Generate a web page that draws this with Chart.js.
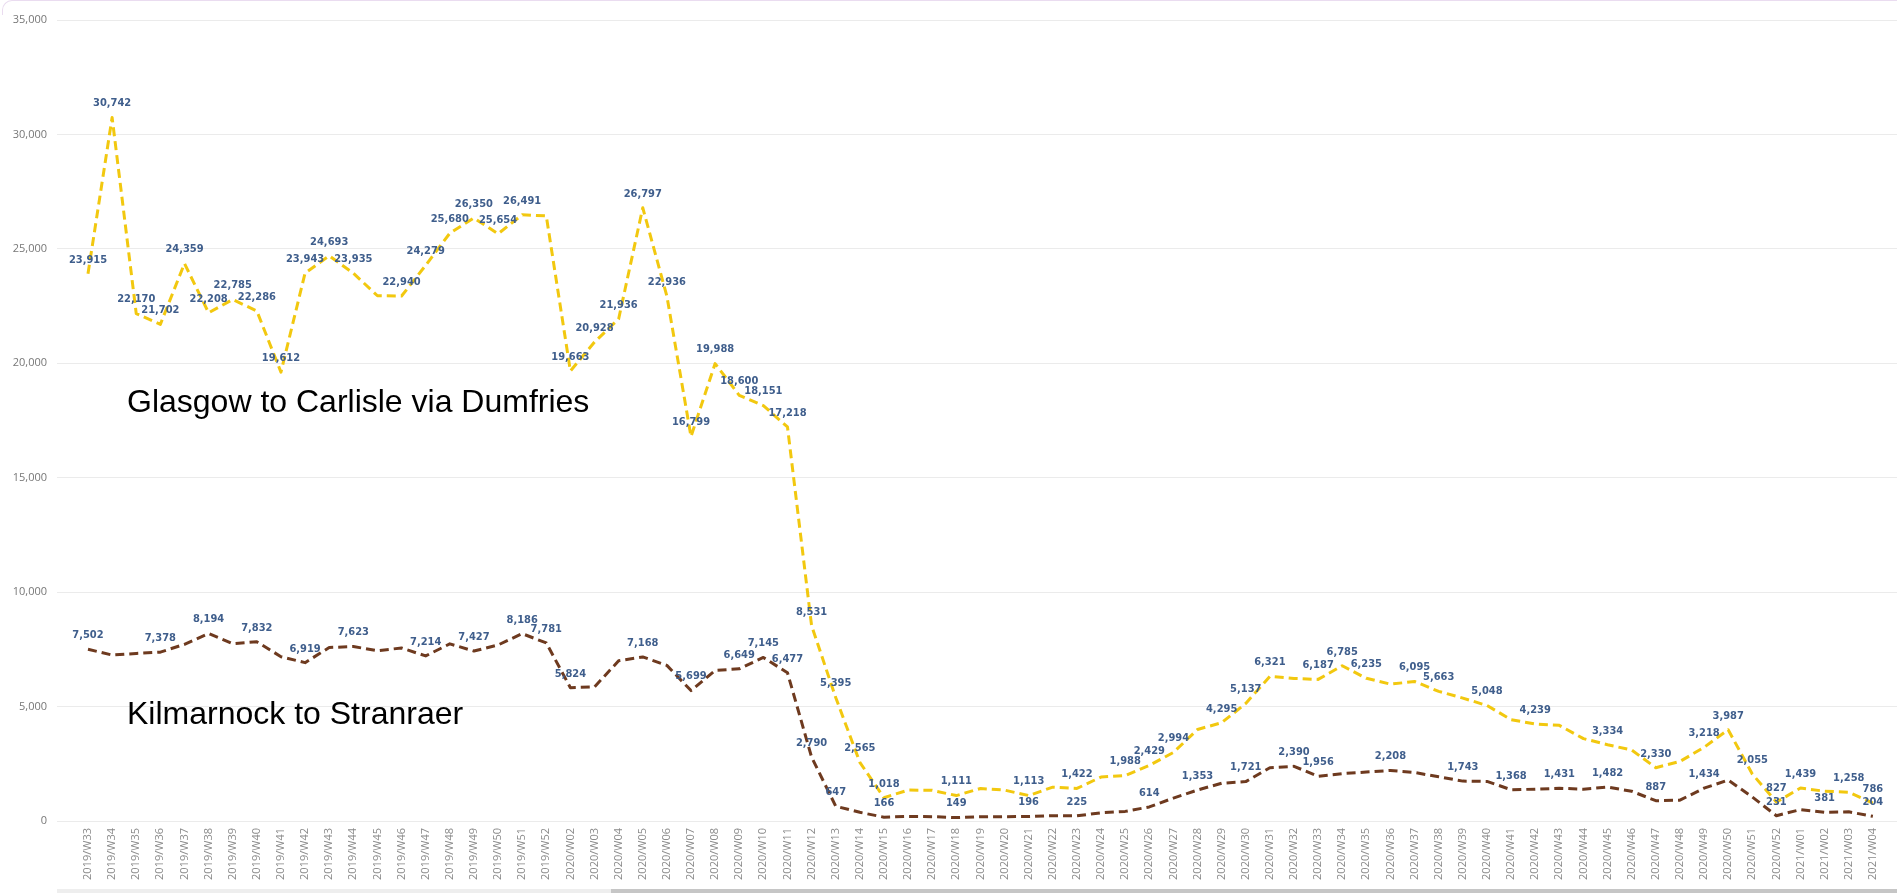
<!DOCTYPE html>
<html>
<head>
<meta charset="utf-8">
<script src="https://cdn.jsdelivr.net/npm/chart.js@4.4.1/dist/chart.umd.min.js"></script>
<style>
    body { margin: 0; background: #fff; }
    #wrap { position: relative; width: 1897px; height: 894px; overflow: hidden; }
    #frame { position: absolute; left: 2px; top: 0; width: 1900px; height: 14px;
             border-top: 1px solid #eadcf0; border-left: 1px solid #eadcf0; border-top-left-radius: 10px; }
    #track { position: absolute; left: 57px; top: 889px; width: 1840px; height: 4px; background: #eeeeee; }
    #thumb { position: absolute; left: 611px; top: 889px; width: 1286px; height: 4px; background: #c6c6c6; }
</style>
</head>
<body>
<div id="wrap">
    <canvas id="LineChart" width="1897" height="894"></canvas>
    <div id="frame"></div>
    <div id="track"></div>
    <div id="thumb"></div>
</div>
<script>
// ---- data (weekly passenger counts) ----
const weeks = [
    '2019/W33','2019/W34','2019/W35','2019/W36','2019/W37','2019/W38','2019/W39','2019/W40','2019/W41','2019/W42',
    '2019/W43','2019/W44','2019/W45','2019/W46','2019/W47','2019/W48','2019/W49','2019/W50','2019/W51','2019/W52',
    '2020/W02','2020/W03','2020/W04','2020/W05','2020/W06','2020/W07','2020/W08','2020/W09','2020/W10','2020/W11',
    '2020/W12','2020/W13','2020/W14','2020/W15','2020/W16','2020/W17','2020/W18','2020/W19','2020/W20','2020/W21',
    '2020/W22','2020/W23','2020/W24','2020/W25','2020/W26','2020/W27','2020/W28','2020/W29','2020/W30','2020/W31',
    '2020/W32','2020/W33','2020/W34','2020/W35','2020/W36','2020/W37','2020/W38','2020/W39','2020/W40','2020/W41',
    '2020/W42','2020/W43','2020/W44','2020/W45','2020/W46','2020/W47','2020/W48','2020/W49','2020/W50','2020/W51',
    '2020/W52','2021/W01','2021/W02','2021/W03','2021/W04'
];

const glasgow = [
    23915, 30742, 22170, 21702, 24359, 22208, 22785, 22286, 19612, 23943,
    24693, 23935, 22950, 22940, 24279, 25680, 26350, 25654, 26491, 26440,
    19663, 20928, 21936, 26797, 22936, 16799, 19988, 18600, 18151, 17218,
    8531, 5395, 2565, 1018, 1350, 1340, 1111, 1420, 1350, 1113,
    1480, 1422, 1920, 1988, 2429, 2994, 4000, 4295, 5137, 6321,
    6230, 6187, 6785, 6235, 5980, 6095, 5663, 5370, 5048, 4430,
    4239, 4180, 3600, 3334, 3100, 2330, 2600, 3218, 3987, 2055,
    827, 1439, 1300, 1258, 786
];

const kilmarnock = [
    7502, 7250, 7320, 7378, 7720, 8194, 7750, 7832, 7180, 6919,
    7580, 7623, 7440, 7560, 7214, 7740, 7427, 7690, 8186, 7781,
    5824, 5860, 7000, 7168, 6800, 5699, 6580, 6649, 7145, 6477,
    2790, 647, 380, 166, 200, 190, 149, 185, 190, 196,
    230, 225, 360, 420, 614, 1000, 1353, 1650, 1721, 2330,
    2390, 1956, 2070, 2140, 2208, 2120, 1930, 1743, 1730, 1368,
    1390, 1431, 1390, 1482, 1300, 887, 910, 1434, 1790, 1050,
    231, 500, 381, 400, 204
];

// which points carry a value label (the others were hidden to avoid overlap)
const glasgowLabelled = [0,1,2,3,4,5,6,7,8,9,10,11,13,14,15,16,17,18,20,21,22,23,24,25,26,27,28,29,30,31,32,33,
    36,39,41,43,44,45,47,48,49,51,52,53,55,56,58,60,63,65,67,68,69,70,71,73,74];
const kilmarnockLabelled = [0,3,5,7,9,11,14,16,18,19,20,23,25,27,28,29,30,31,33,36,39,41,44,46,48,50,51,54,57,
    59,61,63,65,67,70,72,74];

const yTicks = [0, 5000, 10000, 15000, 20000, 25000, 30000, 35000];

const routeNames = ['Glasgow to Carlisle via Dumfries', 'Kilmarnock to Stranraer'];

// ---- value labels above the points ----
const valueLabelPlugin = {
    id: 'valueLabels',
    afterDatasetsDraw(chart) {
        const ctx = chart.ctx;
        ctx.save();
        ctx.font = '600 11px "DejaVu Sans Condensed", "Liberation Sans Narrow", sans-serif';
        ctx.fillStyle = '#3f5e8c';
        ctx.textAlign = 'center';
        ctx.textBaseline = 'middle';
        chart.data.datasets.forEach((ds, di) => {
            const meta = chart.getDatasetMeta(di);
            ds.labelled.forEach(i => {
                const pt = meta.data[i];
                ctx.fillText(ds.data[i].y.toLocaleString('en-US'), pt.x, pt.y - 14);
            });
        });
        ctx.restore();
    }
};

// ---- route names written on the plot ----
const routeNamePlugin = {
    id: 'routeNames',
    afterDraw(chart) {
        const ctx = chart.ctx;
        ctx.save();
        ctx.font = '32px "Liberation Sans", Arial, sans-serif';
        ctx.fillStyle = '#000';
        ctx.textBaseline = 'alphabetic';
        ctx.fillText(routeNames[0], 127, 412);
        ctx.fillText(routeNames[1], 127, 724);
        ctx.restore();
    }
};

const toPoints = arr => arr.map((v, i) => ({ x: i, y: v }));

new Chart(document.getElementById('LineChart'), {
    type: 'line',
    data: {
        datasets: [
            {
                label: routeNames[0],
                data: toPoints(glasgow),
                labelled: glasgowLabelled,
                borderColor: '#f2c80f',
                borderWidth: 3,
                borderDash: [9, 5],
                borderJoinStyle: 'round',
                pointRadius: 0,
                tension: 0,
                fill: false
            },
            {
                label: routeNames[1],
                data: toPoints(kilmarnock),
                labelled: kilmarnockLabelled,
                borderColor: '#6e3a1f',
                borderWidth: 3,
                borderDash: [9, 5],
                borderJoinStyle: 'round',
                pointRadius: 0,
                tension: 0,
                fill: false
            }
        ]
    },
    options: {
        responsive: false,
        animation: false,
        devicePixelRatio: 1,
        layout: { padding: { top: 20, left: 0, right: 0, bottom: 0 } },
        plugins: {
            legend: { display: false },
            tooltip: { enabled: false }
        },
        scales: {
            x: {
                type: 'linear',
                min: -1.285,
                max: 75,
                afterBuildTicks: axis => { axis.ticks = weeks.map((w, i) => ({ value: i })); },
                afterFit: axis => { axis.height = 73; },
                grid: { display: false, drawTicks: false },
                border: { display: false },
                ticks: {
                    autoSkip: false,
                    minRotation: 90,
                    maxRotation: 90,
                    padding: 7,
                    color: '#8a8a8a',
                    font: { family: '"Open Sans", sans-serif', size: 11 },
                    callback: v => weeks[v]
                }
            },
            y: {
                min: 0,
                max: 35000,
                afterBuildTicks: axis => { axis.ticks = yTicks.map(v => ({ value: v })); },
                afterFit: axis => { axis.width = 57; },
                grid: { color: '#ebebeb', lineWidth: 1, drawTicks: false },
                border: { display: false },
                ticks: {
                    padding: 10,
                    color: '#777',
                    font: { family: '"Open Sans", sans-serif', size: 11 },
                    callback: v => v.toLocaleString('en-US')
                }
            }
        }
    },
    plugins: [valueLabelPlugin, routeNamePlugin]
});
</script>
</body>
</html>
